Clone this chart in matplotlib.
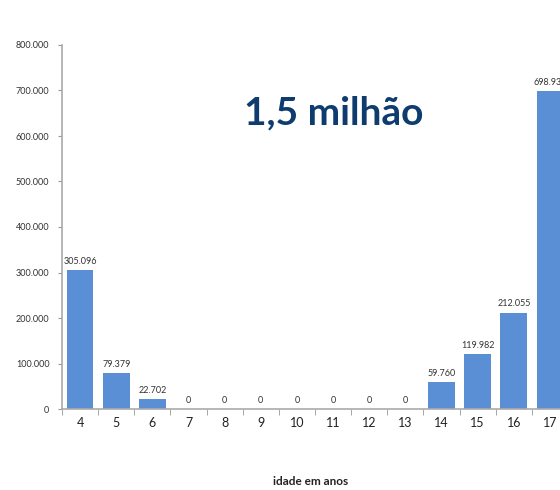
import numpy as np
import matplotlib.pyplot as plt

# idades e número de crianças/jovens fora da escola
idades = ['4', '5', '6', '7', '8', '9', '10', '11', '12', '13', '14', '15', '16', '17']
valores = [305096, 79379, 22702, 0, 0, 0, 0, 0, 0, 0, 59760, 119982, 212055, 698930]
yticks = [0, 100000, 200000, 300000, 400000, 500000, 600000, 700000, 800000]


def fmt(v):
    return f"{v:,}".replace(',', '.')


plt.rcParams['font.family'] = ['Lato', 'DejaVu Sans']

fig = plt.figure(figsize=(5.6, 4.9), dpi=100)
# o eixo passa da borda direita, como no original recortado
ax = fig.add_axes([62 / 560, 81 / 490, 506 / 560, 364 / 490])

x = np.arange(len(idades))
ax.bar(x, valores, width=0.74, color='#5B8FD5', zorder=2)

for xi, v in zip(x, valores):
    ax.text(xi, v + 9000, fmt(v), ha='center', va='bottom', fontsize=6.5, color='#333333')

ax.set_xlim(-0.5, len(idades) - 0.5)
ax.set_ylim(0, 800000)
ax.set_yticks(yticks)
ax.set_yticklabels([fmt(t) for t in yticks], fontsize=6.5, color='#333333')

ax.set_xticks(x)
ax.set_xticklabels(idades, fontsize=9, color='#222222')
ax.tick_params(axis='x', length=0, pad=6)
ax.set_xticks(np.arange(-0.5, len(idades), 1), minor=True)
ax.tick_params(axis='x', which='minor', length=4, color='#999999', direction='out')
ax.tick_params(axis='y', length=3, color='#999999', pad=6)

for s in ['top', 'right']:
    ax.spines[s].set_visible(False)
for s in ['left', 'bottom']:
    ax.spines[s].set_color('#AAAAAA')
    ax.spines[s].set_linewidth(1.2)

fig.text(334 / 560, 1 - 113 / 490, '1,5 milhão', ha='center', va='center',
         fontsize=28, fontweight='bold', color='#0E3C6E')
fig.text(311 / 560, 1 - 481 / 490, 'idade em anos', ha='center', va='center',
         fontsize=8.5, fontweight='bold', color='#222222')

fig.savefig('out.png', dpi=100)
